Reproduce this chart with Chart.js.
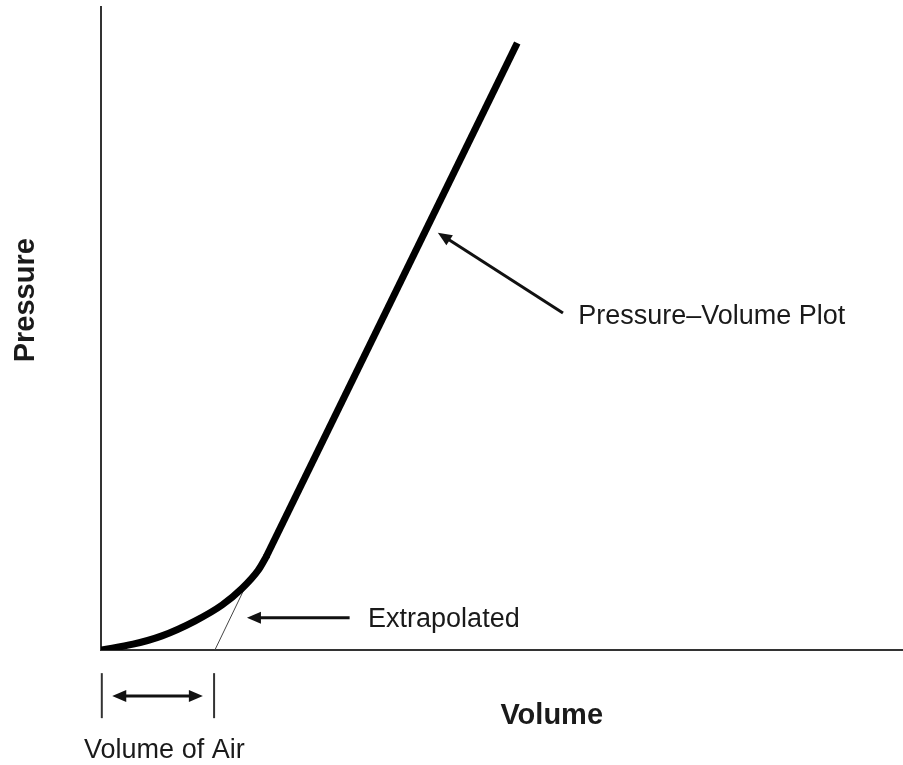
<!DOCTYPE html>
<html>
<head>
<meta charset="utf-8">
<script src="https://cdn.jsdelivr.net/npm/chart.js@4/dist/chart.umd.min.js"></script>
<style>
  html, body { margin: 0; padding: 0; background: #fff; }
  #wrap { width: 903px; height: 765px; }
</style>
</head>
<body>
<div id="wrap"><canvas id="pvChart" width="903" height="765"></canvas></div>
<script>
// pressure-volume curve (arbitrary units 0..100)
const curveVolume   = [0.1, 4.0, 7.6, 11.7, 15.1, 17.6, 19.6, 20.6];
const curvePressure = [0, 0.9, 2.2, 4.5, 7.0, 9.6, 12.4, 14.5];
// straight part of the plot
const lineVolume   = [20.6, 51.9];
const linePressure = [14.5, 94.4];

// thin extrapolated line back to the volume axis
const extrapVolume   = [14.2, 18.6];
const extrapPressure = [0, 11.4];

// arrows: [fromX, fromY, toX, toY] in data units
const pvArrow     = [57.6, 52.4, 42.0, 64.9];
const extrapArrow = [31.0, 5.0, 18.2, 5.0];
const airArrow    = [1.4, -7.15, 12.7, -7.15];
const airTicks    = [0.1, 14.1];
const airTickSpan = [-3.6, -10.6];

// text labels: [text, x, y]
const labels = [
    ['Pressure\u2013Volume Plot', 59.5, 51.9],
    ['Extrapolated', 33.3, 4.7]
];

function toPoints(xs, ys) {
    return xs.map((x, i) => ({ x: x, y: ys[i] }));
}

function arrowHead(ctx, x1, y1, x2, y2, len, half) {
    const a = Math.atan2(y2 - y1, x2 - x1);
    ctx.beginPath();
    ctx.moveTo(x2, y2);
    ctx.lineTo(x2 - len * Math.cos(a) + half * Math.sin(a), y2 - len * Math.sin(a) - half * Math.cos(a));
    ctx.lineTo(x2 - len * Math.cos(a) - half * Math.sin(a), y2 - len * Math.sin(a) + half * Math.cos(a));
    ctx.closePath();
    ctx.fill();
}

const notes = {
    id: 'notes',
    afterDraw(chart) {
        const ctx = chart.ctx;
        const sx = chart.scales.x, sy = chart.scales.y;
        const px = v => sx.getPixelForValue(v);
        const py = v => sy.getPixelForValue(v);
        ctx.save();
        ctx.strokeStyle = '#111';
        ctx.fillStyle = '#111';

        // single arrows
        [pvArrow, extrapArrow].forEach(a => {
            const x1 = px(a[0]), y1 = py(a[1]), x2 = px(a[2]), y2 = py(a[3]);
            const ang = Math.atan2(y2 - y1, x2 - x1);
            ctx.lineWidth = 3;
            ctx.beginPath();
            ctx.moveTo(x1, y1);
            ctx.lineTo(x2 - 10 * Math.cos(ang), y2 - 10 * Math.sin(ang));
            ctx.stroke();
            arrowHead(ctx, x1, y1, x2, y2, 14, 6);
        });

        // double arrow for volume of air
        const ax1 = px(airArrow[0]), ay = py(airArrow[1]), ax2 = px(airArrow[2]);
        ctx.lineWidth = 3;
        ctx.beginPath();
        ctx.moveTo(ax1 + 10, ay);
        ctx.lineTo(ax2 - 10, ay);
        ctx.stroke();
        arrowHead(ctx, ax2, ay, ax1, ay, 14, 6);
        arrowHead(ctx, ax1, ay, ax2, ay, 14, 6);

        ctx.strokeStyle = '#333';
        ctx.lineWidth = 2;
        airTicks.forEach(t => {
            ctx.beginPath();
            ctx.moveTo(px(t), py(airTickSpan[0]));
            ctx.lineTo(px(t), py(airTickSpan[1]));
            ctx.stroke();
        });

        // labels
        ctx.fillStyle = '#1a1a1a';
        ctx.font = '27px "Liberation Sans", Arial, sans-serif';
        ctx.textBaseline = 'middle';
        ctx.textAlign = 'left';
        labels.forEach(l => ctx.fillText(l[0], px(l[1]), py(l[2])));

        ctx.textAlign = 'center';
        ctx.fillText('Volume of Air', px(7.9), py(-15.6));

        // axis titles
        ctx.font = 'bold 29px "Liberation Sans", Arial, sans-serif';
        ctx.fillText('Volume', px(56.2), py(-10.3));
        ctx.translate(px(-9.4), py(54.4));
        ctx.rotate(-Math.PI / 2);
        ctx.fillText('Pressure', 0, 0);
        ctx.restore();
    }
};

new Chart(document.getElementById('pvChart').getContext('2d'), {
    type: 'scatter',
    data: {
        datasets: [{
            label: 'Pressure-Volume Plot',
            data: toPoints(curveVolume, curvePressure),
            showLine: true,
            borderColor: '#000',
            borderWidth: 7,
            pointRadius: 0,
            cubicInterpolationMode: 'monotone',
            borderCapStyle: 'round'
        }, {
            label: 'Pressure-Volume Plot (linear)',
            data: toPoints(lineVolume, linePressure),
            showLine: true,
            borderColor: '#000',
            borderWidth: 7,
            pointRadius: 0,
            borderCapStyle: 'butt'
        }, {
            label: 'Extrapolated',
            data: toPoints(extrapVolume, extrapPressure),
            showLine: true,
            borderColor: '#444',
            borderWidth: 1,
            pointRadius: 0
        }]
    },
    options: {
        responsive: false,
        animation: false,
        layout: { padding: { left: 93, top: 7, right: 0, bottom: 107 } },
        plugins: {
            legend: { display: false },
            tooltip: { enabled: false }
        },
        scales: {
            x: {
                type: 'linear', min: 0, max: 100,
                ticks: { display: false },
                grid: { display: false },
                border: { display: true, color: '#333', width: 2 }
            },
            y: {
                type: 'linear', min: 0, max: 100,
                ticks: { display: false },
                grid: { display: false },
                border: { display: true, color: '#333', width: 2 }
            }
        }
    },
    plugins: [notes]
});
</script>
</body>
</html>
